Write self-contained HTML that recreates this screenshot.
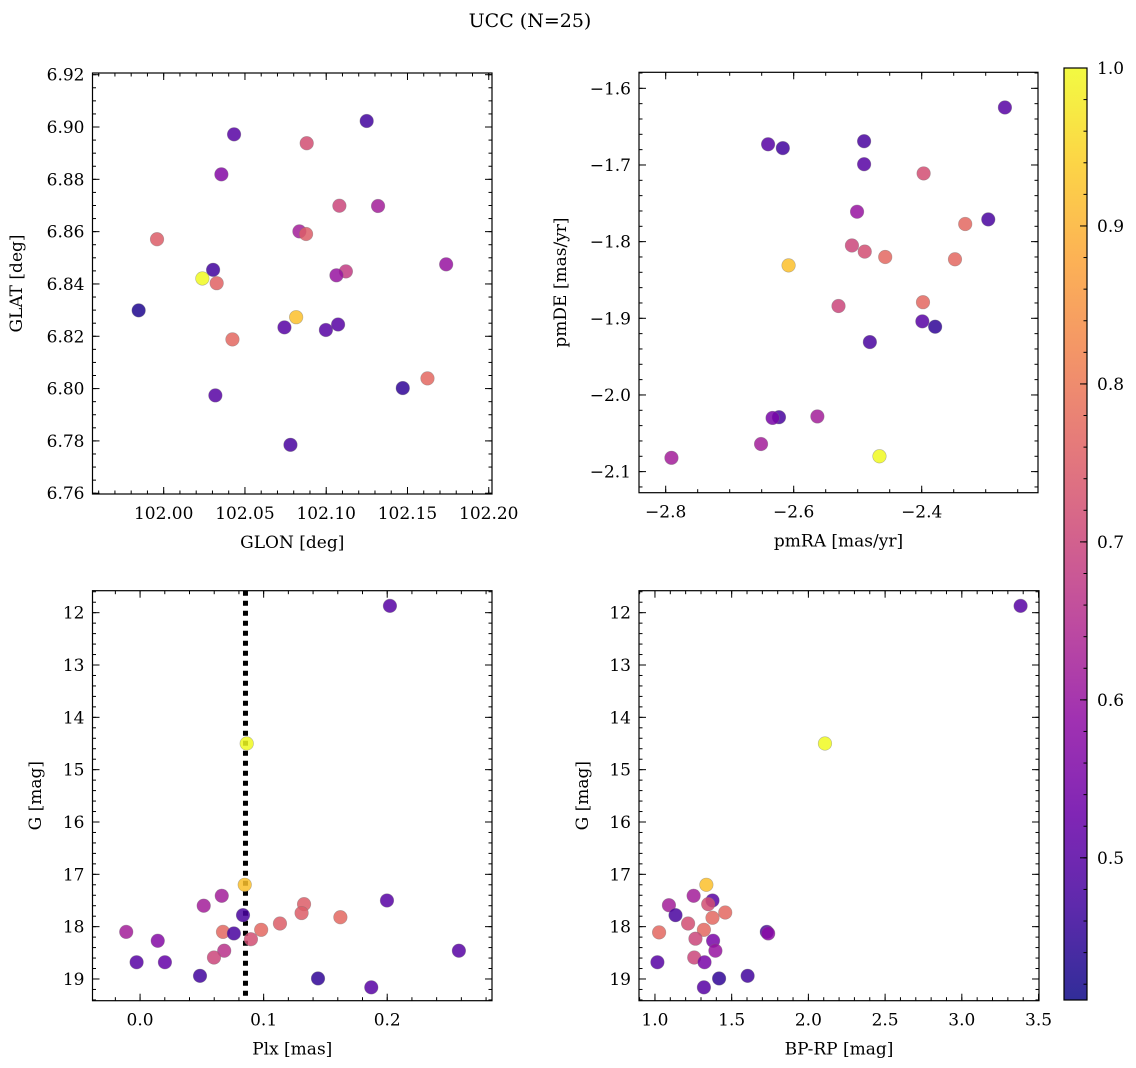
<!DOCTYPE html>
<html><head><meta charset="utf-8"><style>
html,body{margin:0;padding:0;background:#fff;}
svg{display:block;font-family:"DejaVu Serif","Liberation Serif",serif;}
</style></head><body>
<svg id="fig" width="1136" height="1068" viewBox="0 0 1136 1068" xmlns="http://www.w3.org/2000/svg">
<text x="530" y="27" font-size="19" text-anchor="middle">UCC (N=25)</text>
</svg>
<script>
// ---- Data: top-left (GLON vs GLAT)
const tlGlon=[102.1249,102.0433,102.0880,102.0355,102.1081,102.1319,102.0835,102.0876,101.9959,102.1738,102.0304,102.0238,102.0326,102.1121,102.1063,101.9846,102.0815,102.0743,102.0998,102.1073,102.0423,102.1623,102.1471,102.0318,102.0780];
const tlGlat=[6.9023,6.8972,6.8938,6.8819,6.8699,6.8698,6.8601,6.8591,6.8571,6.8475,6.8454,6.8421,6.8403,6.8448,6.8433,6.8299,6.8273,6.8234,6.8224,6.8245,6.8188,6.8039,6.8002,6.7974,6.7785];
const tlProb=[0.47,0.50,0.72,0.57,0.70,0.62,0.62,0.75,0.75,0.60,0.47,1.0,0.76,0.68,0.60,0.43,0.92,0.50,0.50,0.50,0.77,0.77,0.45,0.50,0.48];
// ---- Data: top-right (pmRA vs pmDE)
const trPmra=[-2.270,-2.640,-2.617,-2.490,-2.490,-2.397,-2.501,-2.296,-2.332,-2.509,-2.489,-2.457,-2.348,-2.608,-2.530,-2.398,-2.399,-2.379,-2.481,-2.623,-2.633,-2.563,-2.651,-2.791,-2.466];
const trPmde=[-1.625,-1.673,-1.678,-1.669,-1.699,-1.711,-1.761,-1.771,-1.777,-1.805,-1.813,-1.820,-1.823,-1.831,-1.884,-1.879,-1.904,-1.911,-1.931,-2.029,-2.030,-2.028,-2.064,-2.082,-2.080];
const trProb=[0.50,0.50,0.47,0.48,0.50,0.72,0.60,0.48,0.77,0.70,0.72,0.77,0.77,0.92,0.70,0.77,0.50,0.45,0.48,0.48,0.55,0.62,0.62,0.62,1.0];
// ---- Data: bottom-left (Plx vs G)
const blPlx=[0.2022,0.0863,0.0847,0.0661,0.0515,0.1998,0.1327,0.1307,0.1621,0.0833,0.1132,0.0980,0.0671,0.0759,0.0897,-0.0112,0.0143,0.0681,0.0598,0.2580,-0.0028,0.0201,0.0485,0.1440,0.1871];
const blG=[11.87,14.50,17.20,17.41,17.60,17.50,17.57,17.74,17.82,17.78,17.94,18.06,18.10,18.13,18.24,18.10,18.27,18.46,18.59,18.46,18.68,18.68,18.94,18.99,19.16];
const blProb=[0.50,1.0,0.92,0.62,0.62,0.50,0.75,0.75,0.77,0.48,0.75,0.77,0.77,0.48,0.72,0.62,0.57,0.66,0.70,0.50,0.50,0.52,0.47,0.45,0.50];
const plxLine=[0.0853];
// ---- Data: bottom-right (BP-RP vs G)
const brBprp=[3.383,2.108,1.335,1.252,1.091,1.375,1.347,1.458,1.375,1.134,1.216,1.319,1.027,1.729,1.738,1.264,1.379,1.394,1.256,1.016,1.323,1.418,1.604,1.319];
const brG=[11.87,14.50,17.20,17.41,17.59,17.50,17.57,17.73,17.83,17.78,17.94,18.06,18.11,18.10,18.13,18.23,18.27,18.46,18.59,18.68,18.68,18.99,18.94,19.16];
const brProb=[0.50,1.0,0.92,0.62,0.62,0.50,0.72,0.77,0.77,0.48,0.72,0.77,0.77,0.48,0.58,0.70,0.55,0.60,0.70,0.50,0.55,0.45,0.47,0.50];
// ---- Colorbar ticks
const cbTicks=[0.5,0.6,0.7,0.8,0.9,1.0];

const NS="http://www.w3.org/2000/svg";
const svg=document.getElementById('fig');
const VMIN=0.41,VMAX=1.0;
const FS=17;
const stops=["#0d0887","#41049d","#6a00a8","#8f0da4","#b12a90","#cc4778","#e16462","#f2844b","#fca636","#fcce25","#f0f921"];
function hx(c){return [parseInt(c.substr(1,2),16),parseInt(c.substr(3,2),16),parseInt(c.substr(5,2),16)];}
function plasma(t){t=Math.max(0,Math.min(1,t));const f=t*10;const i=Math.min(9,Math.floor(f));const u=f-i;const a=hx(stops[i]),b=hx(stops[i+1]);
return "rgb("+a.map((v,k)=>Math.round(v+(b[k]-v)*u)).join(",")+")";}
function cmap(v){return plasma((v-VMIN)/(VMAX-VMIN));}
function mk(tag,attrs,parent){const e=document.createElementNS(NS,tag);for(const k in attrs)e.setAttribute(k,attrs[k]);(parent||svg).appendChild(e);return e;}
const MINUS="\u2212";
function fmt(v,d){const s=Math.abs(v).toFixed(d);return (v<-1e-9?MINUS:"")+s;}

function panel(o){
  const g=mk('g',{});
  
  
  const X=v=>o.x0+(v-o.xmin)/(o.xmax-o.xmin)*(o.x1-o.x0);
  const Y=v=>o.inv? o.y0+(v-o.ymin)/(o.ymax-o.ymin)*(o.y1-o.y0) : o.y1-(v-o.ymin)/(o.ymax-o.ymin)*(o.y1-o.y0);
  if(o.vline){o.vline.forEach(v=>{const l=mk('line',{x1:X(v),x2:X(v),y1:o.y0,y2:o.y1,stroke:'#000','stroke-width':5,'stroke-dasharray':'5 5'},g);
    
    });}
  for(let i=0;i<o.xs.length;i++){
    const c=mk('circle',{cx:X(o.xs[i]),cy:Y(o.ys[i]),r:6.8,fill:cmap(o.cs[i]),'fill-opacity':0.85,stroke:'#777','stroke-opacity':0.5,'stroke-width':0.6},g);
    
    
  }
  const fr=mk('rect',{x:o.x0,y:o.y0,width:o.x1-o.x0,height:o.y1-o.y0,fill:'none',stroke:'#000','stroke-width':1.2},g);
  
  
  function ticksX(step,len,labels){
    const s=Math.ceil(o.xmin/step-1e-6);const e=Math.floor(o.xmax/step+1e-6);
    for(let k=s;k<=e;k++){const v=k*step;const x=X(v);
      mk('line',{x1:x,x2:x,y1:o.y1,y2:o.y1-len,stroke:'#000','stroke-width':1},g);
      mk('line',{x1:x,x2:x,y1:o.y0,y2:o.y0+len,stroke:'#000','stroke-width':1},g);
      if(labels){const t=mk('text',{x:x,y:o.y1+25,'font-size':FS,'text-anchor':'middle'},g);t.textContent=fmt(v,o.xd);
        
        }
    }}
  function ticksY(step,len,labels){
    const lo=Math.min(o.ymin,o.ymax),hi=Math.max(o.ymin,o.ymax);
    const s=Math.ceil(lo/step-1e-6);const e=Math.floor(hi/step+1e-6);
    for(let k=s;k<=e;k++){const v=k*step;const y=Y(v);
      mk('line',{x1:o.x0,x2:o.x0+len,y1:y,y2:y,stroke:'#000','stroke-width':1},g);
      mk('line',{x1:o.x1,x2:o.x1-len,y1:y,y2:y,stroke:'#000','stroke-width':1},g);
      if(labels){const t=mk('text',{x:o.x0-8,y:y+6,'font-size':FS,'text-anchor':'end'},g);t.textContent=fmt(v,o.yd);
        
        }
    }}
  ticksX(o.xmaj,7,true);ticksX(o.xmin_,3.5,false);
  ticksY(o.ymaj,7,true);ticksY(o.ymin_,3.5,false);
  const xl=mk('text',{x:(o.x0+o.x1)/2,y:o.y1+54,'font-size':FS,'text-anchor':'middle'},g);xl.textContent=o.xlabel;
  
  
  const cy=(o.y0+o.y1)/2;
  const yl=mk('text',{x:o.ylx,y:cy,'font-size':FS,'text-anchor':'middle',transform:'rotate(-90 '+o.ylx+' '+cy+')'},g);yl.textContent=o.ylabel;
  
  
}

panel({name:'glon-glat-panel',x0:92.5,x1:492,y0:73,y1:494,xmin:101.9562,xmax:102.2020,ymin:6.7597,ymax:6.92065,
  xs:tlGlon,ys:tlGlat,cs:tlProb,xmaj:0.05,xmin_:0.01,ymaj:0.02,ymin_:0.005,xd:2,yd:2,xlabel:'GLON [deg]',ylabel:'GLAT [deg]',ylx:22});
panel({name:'pm-panel',x0:639,x1:1038,y0:72.3,y1:492.7,xmin:-2.8417,xmax:-2.2183,ymin:-2.1275,ymax:-1.5791,
  xs:trPmra,ys:trPmde,cs:trProb,xmaj:0.2,xmin_:0.05,ymaj:0.1,ymin_:0.02,xd:1,yd:1,xlabel:'pmRA [mas/yr]',ylabel:'pmDE [mas/yr]',ylx:566});
panel({name:'plx-g-panel',x0:92.5,x1:492,y0:590.7,y1:1000.7,xmin:-0.0385,xmax:0.2848,ymin:11.58,ymax:19.415,inv:true,
  xs:blPlx,ys:blG,cs:blProb,xmaj:0.1,xmin_:0.02,ymaj:1,ymin_:0.2,xd:1,yd:0,xlabel:'Plx [mas]',ylabel:'G [mag]',ylx:41,vline:plxLine});
panel({name:'cmd-panel',x0:639,x1:1039,y0:590.7,y1:1000.7,xmin:0.896,xmax:3.503,ymin:11.58,ymax:19.415,inv:true,
  xs:brBprp,ys:brG,cs:brProb,xmaj:0.5,xmin_:0.1,ymaj:1,ymin_:0.2,xd:1,yd:0,xlabel:'BP-RP [mag]',ylabel:'G [mag]',ylx:588});

// ---- Colorbar
const cb=mk('g',{});


const defs=mk('defs',{},cb);
const lg=mk('linearGradient',{id:'cbg',x1:0,y1:1,x2:0,y2:0},defs);
for(let i=0;i<=20;i++){mk('stop',{offset:(i/20),'stop-color':plasma(i/20),'stop-opacity':0.85},lg);}
const CB={x0:1064,x1:1087,y0:68,y1:1000};
const CY=v=>CB.y1-(v-VMIN)/(VMAX-VMIN)*(CB.y1-CB.y0);
const cbr=mk('rect',{x:CB.x0,y:CB.y0,width:CB.x1-CB.x0,height:CB.y1-CB.y0,fill:'url(#cbg)',stroke:'#000','stroke-width':1.2},cb);


for(let v=0.42;v<=1.0001;v+=0.02){const y=CY(v);mk('line',{x1:CB.x1,x2:CB.x1-3.5,y1:y,y2:y,stroke:'#000','stroke-width':1},cb);}
cbTicks.forEach(v=>{const y=CY(v);mk('line',{x1:CB.x1,x2:CB.x1-7,y1:y,y2:y,stroke:'#000','stroke-width':1},cb);
  const t=mk('text',{x:CB.x1+10,y:y+6,'font-size':FS},cb);t.textContent=v.toFixed(1);
  
  });
</script>
</body></html>
